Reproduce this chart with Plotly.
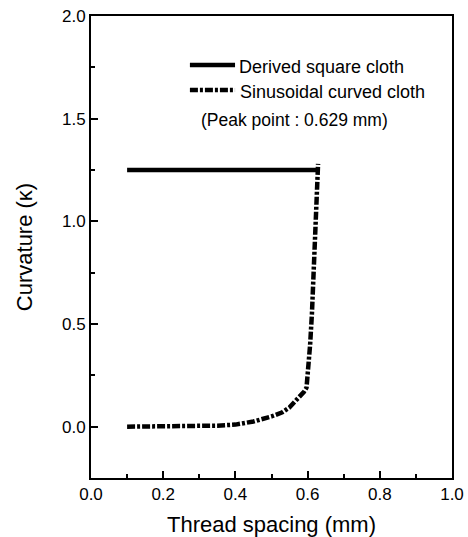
import plotly.graph_objects as go

# Derived square cloth
square_x = [0.10, 0.629]
square_y = [1.25, 1.25]

# Sinusoidal curved cloth
sin_x = [0.10, 0.15, 0.20, 0.25, 0.30, 0.35, 0.40, 0.45, 0.50, 0.53, 0.55, 0.57, 0.59,
         0.597, 0.603, 0.607, 0.612, 0.616, 0.620, 0.624, 0.627, 0.629]
sin_y = [0.0, 0.0, 0.0, 0.0, 0.002, 0.005, 0.01, 0.025, 0.05, 0.07, 0.094, 0.13, 0.17,
         0.19, 0.30, 0.40, 0.55, 0.70, 0.85, 1.05, 1.20, 1.28]

series_names = ["Derived square cloth", "Sinusoidal curved cloth"]
note_text = "(Peak point : 0.629 mm)"

x_ticks = [0.0, 0.2, 0.4, 0.6, 0.8, 1.0]
y_ticks = [0.0, 0.5, 1.0, 1.5, 2.0]

FONT = "Liberation Sans, Arial, sans-serif"
DASH = "8px,2px,3px,2px"

fig = go.Figure()
fig.add_trace(go.Scatter(x=square_x, y=square_y, mode="lines", name=series_names[0],
                         showlegend=False, line=dict(color="black", width=4.5)))
fig.add_trace(go.Scatter(x=sin_x, y=sin_y, mode="lines", name=series_names[1],
                         showlegend=False, line=dict(color="black", width=4.5, dash=DASH)))

# manual legend (paper coordinates of the plot area)
fig.add_shape(type="line", xref="paper", yref="paper", x0=0.274, x1=0.399, y0=0.894, y1=0.894,
              line=dict(color="black", width=4.5))
fig.add_shape(type="line", xref="paper", yref="paper", x0=0.274, x1=0.399, y0=0.840, y1=0.840,
              line=dict(color="black", width=4.5, dash=DASH))
fig.add_annotation(x=0.405, y=0.890, xref="paper", yref="paper", text=series_names[0],
                   showarrow=False, xanchor="left", yanchor="middle",
                   font=dict(family=FONT, size=18, color="black"))
fig.add_annotation(x=0.408, y=0.836, xref="paper", yref="paper", text=series_names[1],
                   showarrow=False, xanchor="left", yanchor="middle",
                   font=dict(family=FONT, size=18, color="black"))
fig.add_annotation(x=0.298, y=0.775, xref="paper", yref="paper", text=note_text,
                   showarrow=False, xanchor="left", yanchor="middle",
                   font=dict(family=FONT, size=17.5, color="black"))

axis_common = dict(
    showline=True, linecolor="black", linewidth=2, mirror=True,
    ticks="inside", ticklen=7, tickwidth=2, tickcolor="black",
    showgrid=False, zeroline=False, automargin=False,
    tickfont=dict(family=FONT, size=17, color="black"),
)

fig.update_xaxes(range=[0, 1], tickvals=x_ticks, ticktext=[f"{v:.1f}" for v in x_ticks],
                 minor=dict(ticks="inside", ticklen=4, tickwidth=2, tickcolor="black",
                            tickvals=[0.1, 0.3, 0.5, 0.7, 0.9], showgrid=False),
                 title=dict(text="Thread spacing (mm)", font=dict(family=FONT, size=22, color="black"),
                            standoff=14),
                 **axis_common)
fig.update_yaxes(range=[-0.25, 2.0], tickvals=y_ticks, ticktext=[f"{v:.1f}" for v in y_ticks],
                 minor=dict(ticks="inside", ticklen=4, tickwidth=2, tickcolor="black",
                            tickvals=[0.25, 0.75, 1.25, 1.75], showgrid=False),
                 title=dict(text="Curvature (κ)", font=dict(family=FONT, size=22, color="black"),
                            standoff=23),
                 **axis_common)

fig.update_layout(
    width=468, height=537,
    margin=dict(l=91, r=16, t=16, b=59),
    paper_bgcolor="white", plot_bgcolor="white",
    showlegend=False,
)

fig.write_html("out.html", config={"displayModeBar": False},
               post_script="document.body.style.margin='0';document.body.style.overflow='hidden';")
